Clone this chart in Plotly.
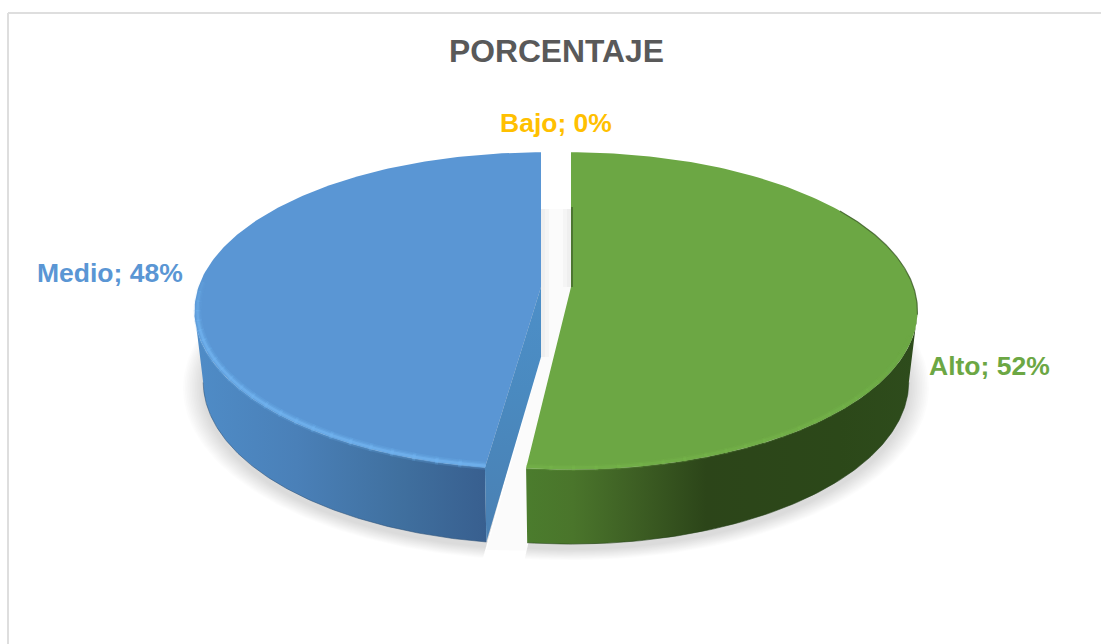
import numpy as np
import plotly.graph_objects as go

categories = ["Alto", "Medio", "Bajo"]
values = [52, 48, 0]
colors = {"Alto": "#6ca744", "Medio": "#5a96d4", "Bajo": "#ffc000"}
title_text = "PORCENTAJE"

# view of the tilted disc, in page pixels
A, B, K = 342.5, 155, 0.151
SX, SY, DEPTH = 0.975, 1.025, 70
apex = {"Alto": (571, 287), "Medio": (541, 287)}
EDGE_SPREAD = 0.8  # degrees of apparent spread of the two cut edges
TANGENT_R, TANGENT_L = 99, 261
total = sum(values)
stop_alto = 360 * values[0] / total


def top(cat, deg, r=1.0):
    t = np.radians(deg)
    u, v = r * np.sin(t), r * np.cos(t)
    w = 1 + K * v
    cx, cy = apex[cat]
    return cx + A * u / w, cy - B * v / w


def bottom(cat, deg, r=1.0, grow=1.0):
    x, y = top(cat, deg, r)
    cx, cy = apex[cat]
    return cx + SX * grow * (x - cx), cy + SY * grow * (y - cy) + DEPTH


def arc(cat, a, b, fn=top, **kw):
    d = np.linspace(a, b, 160)
    return fn(cat, d, **kw)


fig = go.Figure()


def poly(x, y, color=None, grad=None):
    kw = dict(fillgradient=grad) if grad else dict(fillcolor=color)
    fig.add_trace(go.Scatter(x=list(x), y=list(y), mode="lines", fill="toself",
                             line=dict(width=0), hoverinfo="skip", showlegend=False, **kw))


def stroke(x, y, color, width):
    fig.add_trace(go.Scatter(x=list(x), y=list(y), mode="lines", line=dict(color=color, width=width),
                             hoverinfo="skip", showlegend=False))


def faded_rim(cat, a, b, rgb, layers, fade_deg):
    """Band along the rim that fades away towards angle b."""
    edges = np.linspace(a, b, 26)
    sign = 1 if b > a else -1
    for lo, hi in zip(edges[:-1], edges[1:]):
        f = min(1.0, abs(b - hi) / fade_deg)
        x, y = arc(cat, lo, hi + sign * 0.5, r=0.992)
        for width, alpha in layers:
            stroke(x[::16].tolist() + [x[-1]], y[::16].tolist() + [y[-1]],
                   f"rgba({rgb},{alpha * f:.3f})", width)


spans = {"Alto": (0, stop_alto - EDGE_SPREAD), "Medio": (stop_alto + EDGE_SPREAD, 360)}

# soft shadow under both slices
for i, grow in enumerate([1.06, 1.055, 1.05, 1.045, 1.04, 1.035, 1.03, 1.025, 1.02, 1.015, 1.01, 1.005]):
    for cat, (a, b) in spans.items():
        x, y = arc(cat, a, b, bottom, grow=grow)
        cx, cy = apex[cat]
        x = np.concatenate([[cx], x])
        y = np.concatenate([[cy + DEPTH - 8], y + 5])
        poly(x, y, "rgba(0,0,0,0.011)")

# shadow seen through the gap between the slices
mx, my = apex["Medio"]
ax, ay = apex["Alto"]
far_y = bottom("Medio", 360)[1] - 10
gtx, gty = top("Alto", spans["Alto"][1])
gbx, gby = bottom("Alto", spans["Alto"][1])
bbx, bby = bottom("Medio", spans["Medio"][0])
poly([mx, ax, ax, gtx, gbx, bbx, mx, mx], [far_y, far_y, ay, gty, gby + 8, bby + 8, my + DEPTH, far_y],
     "rgba(0,0,0,0.016)")
for inset in [4, 8]:
    poly([mx, mx + inset, mx + inset, mx], [far_y, far_y, my + DEPTH, my + DEPTH], "rgba(0,0,0,0.025)")
    poly([ax, ax - inset, ax - inset, ax], [far_y, far_y, ay, ay], "rgba(0,0,0,0.025)")

# curved sides
xa, ya = arc("Alto", TANGENT_R, spans["Alto"][1])
xb, yb = arc("Alto", TANGENT_R, spans["Alto"][1], bottom)
poly(np.r_[xa, xb[::-1]], np.r_[ya, yb[::-1]], grad=dict(type="horizontal", colorscale=[
    [0, "#4b7c2d"], [0.12, "#4a752b"], [0.27, "#3e6024"], [0.46, "#2c4519"], [0.8, "#2c4819"], [1, "#2e4c1c"]]))
stroke(xb, yb, "rgba(36,64,26,0.7)", 0.8)

xa, ya = arc("Medio", spans["Medio"][0], TANGENT_L)
xb, yb = arc("Medio", spans["Medio"][0], TANGENT_L, bottom)
poly(np.r_[xa, xb[::-1]], np.r_[ya, yb[::-1]], grad=dict(type="horizontal", colorscale=[
    [0, "#4f8cc7"], [0.35, "#4a80b8"], [0.7, "#40709f"], [1, "#385f8f"]]))
stroke(xb, yb, "rgba(47,83,120,0.7)", 0.8)

# flat cut face of the blue slice
tx, ty = top("Medio", spans["Medio"][0])
bx, by = bottom("Medio", spans["Medio"][0])
cx, cy = apex["Medio"]
poly([cx, tx, bx, cx, cx], [cy, ty, by, cy + DEPTH, cy], grad=dict(type="vertical", colorscale=[
    [0, "#4a80b3"], [0.6, "#4a8ac0"], [1, "#4d8fc8"]]))

# top faces
for cat, (a, b) in spans.items():
    x, y = arc(cat, a, b)
    cx, cy = apex[cat]
    poly(np.r_[cx, x, cx], np.r_[cy, y, cy], colors[cat])

# lit and dark rims
faded_rim("Medio", spans["Medio"][0], 275, "112,178,238", [(8, 0.2), (5, 0.35), (2.5, 0.75)], 22)
faded_rim("Alto", spans["Alto"][1], 105, "118,182,76", [(6, 0.2), (3, 0.4)], 30)
x, y = arc("Alto", 58, 100)
stroke(x, y, "rgba(55,85,35,0.75)", 1.2)
cx, cy = apex["Alto"]
stroke([cx + 1, cx + 1], [cy - 80, cy], "#3a5626", 1.2)

# texts
label_pos = {"Alto": (989, 366), "Medio": (110, 273), "Bajo": (556, 123)}
annotations = [dict(x=556, y=51, text=f"<b>{title_text}</b>", showarrow=False,
                    font=dict(family="Liberation Sans", size=31.8, color="#595959"))]
for cat, val in zip(categories, values):
    lx, ly = label_pos[cat]
    annotations.append(dict(x=lx, y=ly, text=f"<b>{cat}; {val}%</b>", showarrow=False,
                            font=dict(family="Liberation Sans", size=26.5, color=colors[cat])))

fig.update_layout(
    width=1101, height=644, margin=dict(l=0, r=0, t=0, b=0),
    paper_bgcolor="white", plot_bgcolor="white", showlegend=False,
    xaxis=dict(range=[0, 1101], visible=False, fixedrange=True),
    yaxis=dict(range=[644, 0], visible=False, fixedrange=True),
    annotations=annotations,
    shapes=[dict(type="line", x0=8, x1=8, y0=13, y1=644, line=dict(color="#dedede", width=2)),
            dict(type="line", x0=8, x1=1101, y0=13, y1=13, line=dict(color="#dedede", width=2))],
)
fig.write_html("out.html", config=dict(displayModeBar=False),
               post_script="document.body.style.margin='0';document.body.style.overflow='hidden';")
